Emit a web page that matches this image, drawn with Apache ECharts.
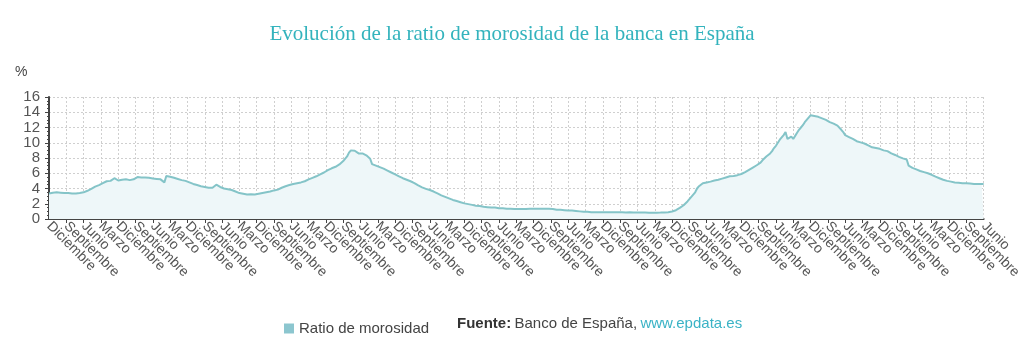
<!DOCTYPE html>
<html>
<head>
<meta charset="utf-8">
<script src="https://cdn.jsdelivr.net/npm/echarts@6/dist/echarts.min.js"></script>
<style>
html,body{margin:0;padding:0;background:#fff;}
#c{width:1024px;height:339px;}
</style>
</head>
<body>
<div id="c"></div>
<script>
// Month names (Spanish) used for the category labels
const monthNames = ['Enero','Febrero','Marzo','Abril','Mayo','Junio','Julio','Agosto','Septiembre','Octubre','Noviembre','Diciembre'];
// First category: Diciembre 1980, last: Junio 2021 (monthly)
const startYear = 1980, startMonth = 11, pointCount = 487;
const yTicks = [0,2,4,6,8,10,12,14,16];

// Ratio de morosidad (%), monthly, Dec 1980 -> Jun 2021
const ratio = [
  3.35,
  /*1981*/ 3.4,3.45,3.5,3.5,3.5,3.45,3.45,3.4,3.4,3.4,3.4,3.35,
  /*1982*/ 3.35,3.35,3.4,3.4,3.45,3.5,3.55,3.7,3.8,3.95,4.1,4.25,
  /*1983*/ 4.35,4.45,4.55,4.7,4.85,4.95,5.0,5.0,5.2,5.35,5.2,5.05,
  /*1984*/ 5.1,5.15,5.2,5.2,5.15,5.1,5.1,5.2,5.45,5.5,5.5,5.45,
  /*1985*/ 5.45,5.45,5.4,5.4,5.35,5.3,5.3,5.25,5.2,5.2,5.15,4.8,
  /*1986*/ 5.65,5.6,5.55,5.5,5.4,5.35,5.25,5.2,5.1,5.05,5.0,4.9,
  /*1987*/ 4.8,4.7,4.6,4.5,4.45,4.4,4.3,4.25,4.2,4.15,4.1,4.0,
  /*1988*/ 4.1,4.3,4.5,4.35,4.2,4.05,4.0,3.95,3.9,3.85,3.8,3.75,
  /*1989*/ 3.6,3.5,3.4,3.35,3.3,3.25,3.2,3.2,3.25,3.25,3.2,3.2,
  /*1990*/ 3.3,3.35,3.4,3.5,3.5,3.55,3.6,3.65,3.75,3.8,3.85,3.95,
  /*1991*/ 4.1,4.2,4.3,4.35,4.45,4.55,4.6,4.65,4.7,4.75,4.8,4.85,
  /*1992*/ 4.95,5.05,5.2,5.3,5.4,5.5,5.6,5.7,5.85,6.0,6.1,6.25,
  /*1993*/ 6.4,6.5,6.65,6.75,6.85,7.0,7.15,7.3,7.6,7.85,8.2,8.7,
  /*1994*/ 9.0,9.05,8.95,8.8,8.6,8.5,8.6,8.55,8.35,8.2,7.9,7.2,
  /*1995*/ 7.1,7.0,6.9,6.8,6.7,6.6,6.45,6.35,6.25,6.1,6.0,5.85,
  /*1996*/ 5.75,5.6,5.45,5.35,5.25,5.15,5.05,4.95,4.85,4.7,4.55,4.4,
  /*1997*/ 4.25,4.15,4.05,3.95,3.9,3.8,3.7,3.6,3.5,3.35,3.2,3.1,
  /*1998*/ 3.0,2.9,2.8,2.7,2.6,2.5,2.4,2.35,2.3,2.2,2.15,2.05,
  /*1999*/ 2.0,1.95,1.9,1.85,1.8,1.75,1.7,1.7,1.65,1.6,1.6,1.55,
  /*2000*/ 1.55,1.5,1.5,1.5,1.45,1.4,1.4,1.4,1.4,1.35,1.35,1.35,
  /*2001*/ 1.3,1.3,1.3,1.3,1.3,1.3,1.3,1.3,1.3,1.35,1.35,1.35,
  /*2002*/ 1.35,1.35,1.35,1.35,1.35,1.35,1.35,1.35,1.35,1.3,1.25,1.2,
  /*2003*/ 1.2,1.2,1.15,1.15,1.15,1.1,1.1,1.1,1.05,1.05,1.0,1.0,
  /*2004*/ 1.0,0.95,0.95,0.95,0.95,0.9,0.9,0.9,0.9,0.9,0.9,0.87,
  /*2005*/ 0.87,0.87,0.88,0.9,0.9,0.9,0.9,0.9,0.9,0.88,0.87,0.85,
  /*2006*/ 0.87,0.87,0.87,0.86,0.86,0.85,0.85,0.85,0.84,0.84,0.83,0.83,
  /*2007*/ 0.82,0.82,0.82,0.83,0.83,0.84,0.85,0.86,0.88,0.9,0.93,0.98,
  /*2008*/ 1.05,1.15,1.3,1.45,1.6,1.8,2.0,2.3,2.6,2.9,3.2,3.5,
  /*2009*/ 4.0,4.3,4.5,4.7,4.75,4.8,4.85,4.9,5.0,5.05,5.1,5.15,
  /*2010*/ 5.2,5.3,5.4,5.45,5.5,5.6,5.6,5.65,5.7,5.75,5.8,5.9,
  /*2011*/ 6.0,6.15,6.3,6.45,6.6,6.75,6.9,7.05,7.2,7.4,7.7,7.95,
  /*2012*/ 8.2,8.4,8.6,8.9,9.3,9.6,10.0,10.4,10.7,11.0,11.4,10.5,
  /*2013*/ 10.6,10.8,10.5,10.9,11.3,11.7,12.0,12.3,12.7,13.0,13.1,13.6,
  /*2014*/ 13.6,13.5,13.45,13.4,13.3,13.2,13.1,13.0,12.8,12.7,12.5,12.5,
  /*2015*/ 12.4,12.25,12.0,11.7,11.4,11.0,10.9,10.75,10.6,10.5,10.4,10.2,
  /*2016*/ 10.1,10.05,10.0,9.9,9.8,9.65,9.5,9.4,9.35,9.3,9.3,9.2,
  /*2017*/ 9.1,9.0,8.95,8.9,8.75,8.6,8.5,8.4,8.3,8.15,8.05,7.95,
  /*2018*/ 7.9,7.8,7.0,6.85,6.7,6.55,6.5,6.4,6.3,6.2,6.15,6.1,
  /*2019*/ 6.0,5.9,5.8,5.65,5.55,5.45,5.35,5.25,5.15,5.1,5.0,4.95,
  /*2020*/ 4.9,4.85,4.8,4.8,4.75,4.75,4.7,4.7,4.7,4.65,4.65,4.6,
  /*2021*/ 4.6,4.6,4.6,4.6,4.6,4.6
];

// Category labels "Mes Año"
const categories = [];
for (let i = 0; i < pointCount; i++) {
  const m = (startMonth + i) % 12;
  const y = startYear + Math.floor((startMonth + i) / 12);
  categories.push(monthNames[m] + ' ' + y);
}

const chart = echarts.init(document.getElementById('c'), null, {renderer: 'canvas'});
const FONT = 'Liberation Sans, Arial, sans-serif';
const labelBase = {
  rotate: -45,
  margin: 5,
  fontFamily: FONT,
  fontSize: 14,
  color: '#555',
  formatter: v => v.split(' ')[0]
};
chart.setOption({
  animation: false,
  backgroundColor: '#ffffff',
  title: {
    text: 'Evolución de la ratio de morosidad de la banca en España',
    left: 'center',
    top: 19,
    textStyle: {fontFamily: 'Liberation Serif, Times New Roman, serif', fontSize: 21, fontWeight: 'normal', color: '#33b3bd'}
  },
  legend: {
    data: ['Ratio de morosidad'],
    left: 279,
    top: 316,
    icon: 'rect',
    itemWidth: 10,
    itemHeight: 10,
    itemGap: 6,
    textStyle: {fontFamily: FONT, fontSize: 15, color: '#444'}
  },
  graphic: [
    {
      type: 'text',
      left: 15,
      top: 65,
      style: {text: '%', font: '14px ' + FONT, fill: '#444'}
    },
    {
      type: 'text',
      left: 457,
      top: 316,
      style: {
        text: '{b|Fuente:} {n|Banco de España,} {l|www.epdata.es}',
        rich: {
          b: {fontFamily: FONT, fontSize: 15, fontWeight: 'bold', fill: '#333', color: '#333'},
          n: {fontFamily: FONT, fontSize: 15, fill: '#444', color: '#444'},
          l: {fontFamily: FONT, fontSize: 15, fill: '#3ab3c6', color: '#3ab3c6'}
        }
      }
    }
  ],
  grid: {left: 49, right: 39, top: 97, bottom: 120, containLabel: false},
  xAxis: [
    {
      type: 'category',
      data: categories,
      boundaryGap: false,
      axisLine: {show: true, lineStyle: {color: '#444', width: 2}},
      axisTick: {show: true, interval: 8, length: 4, lineStyle: {color: '#444'}},
      axisLabel: Object.assign({}, labelBase, {interval: 8, showMinLabel: false, showMaxLabel: false}),
      splitLine: {show: true, interval: 8, lineStyle: {color: '#cfcfcf', type: [2, 2], width: 1}}
    },
    {
      // only the first and last labels (avoids the min/max overlap hiding)
      type: 'category',
      data: categories,
      boundaryGap: false,
      position: 'bottom',
      offset: 0,
      axisLine: {show: false},
      axisTick: {show: false},
      splitLine: {show: false},
      axisLabel: Object.assign({}, labelBase, {
        interval: (i) => i === 0 || i === pointCount - 1,
        showMinLabel: true,
        showMaxLabel: true
      })
    }
  ],
  yAxis: {
    type: 'value',
    min: yTicks[0],
    max: yTicks[yTicks.length - 1],
    interval: 2,
    axisLine: {show: true, lineStyle: {color: '#444', width: 2}},
    axisTick: {show: true, length: 4, lineStyle: {color: '#444'}},
    minorTick: {show: true, splitNumber: 4, length: 2, lineStyle: {color: '#444'}},
    axisLabel: {fontFamily: FONT, fontSize: 15, color: '#555', margin: 9},
    splitLine: {show: true, lineStyle: {color: '#cfcfcf', type: [2, 2], width: 1}}
  },
  series: [{
    name: 'Ratio de morosidad',
    type: 'line',
    xAxisIndex: 0,
    data: ratio,
    showSymbol: false,
    symbol: 'none',
    itemStyle: {color: '#8cc6cf'},
    lineStyle: {color: '#84c4c8', width: 2},
    areaStyle: {color: '#eef7f9', opacity: 1}
  }]
});
</script>
</body>
</html>
